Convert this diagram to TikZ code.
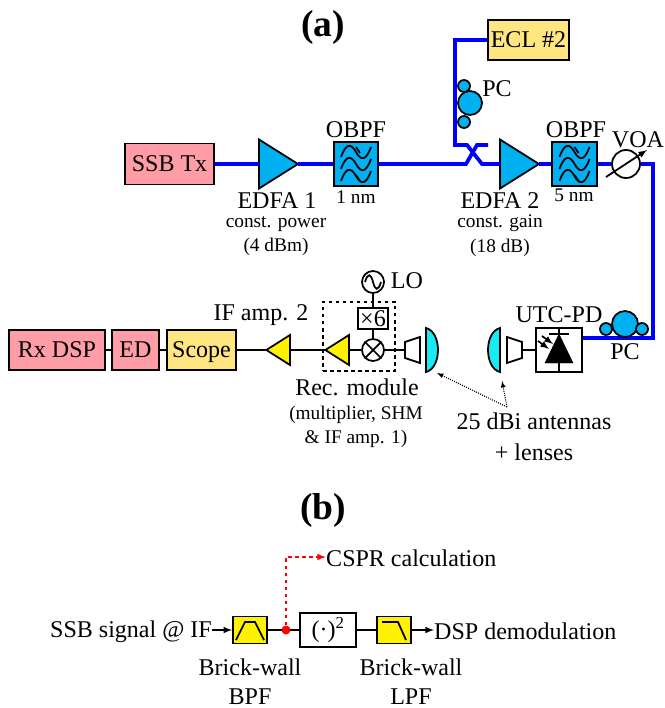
\documentclass[tikz,border=0pt]{standalone}
\usepackage{fontspec}
\setmainfont{Liberation Serif}
\usetikzlibrary{shapes.geometric}
\definecolor{oblue}{HTML}{00B0F0}
\definecolor{txpink}{HTML}{FF9DA6}
\definecolor{labyellow}{HTML}{FFE680}
\definecolor{lenscyan}{HTML}{19E8F5}
\tikzset{
	fiber/.style={line width=3.2pt, color=blue},
	wire/.style={line width=1.5pt},
	bigtext/.style={font=\fontsize{20.5}{22}\selectfont, inner sep=0pt, anchor=base},
	smalltext/.style={font=\fontsize{16.5}{18}\selectfont, inner sep=0pt, anchor=base},
	titletext/.style={font=\fontsize{32}{34}\selectfont\bfseries, inner sep=0pt},
	block/.style={draw, line width=1.5pt, inner sep=0pt, font=\fontsize{20.5}{22}\selectfont, text height=13pt, text depth=0pt},
	amp/.style={draw, line width=1.5pt, shape=isosceles triangle, isosceles triangle stretches, inner sep=0pt, outer sep=0pt},
	edfa/.style={amp, fill=oblue, minimum height=1.17cm, minimum width=1.47cm},
	ifamp/.style={amp, fill=yellow, minimum height=0.71cm, minimum width=0.9cm, shape border rotate=180},
	coil/.style={draw, line width=1.5pt, circle, fill=oblue, inner sep=0pt},
}
% filter symbol with three waves
\def\wavefilter(#1){
	\begin{scope}[shift={(#1)}]
		\foreach \dy in {-12, 0, 12}
			\draw[wire] (-15, 5+\dy) .. controls (-10, -9+\dy) and (-5, -9+\dy) .. (0, \dy) .. controls (5, 9+\dy) and (10, 9+\dy) .. (15, -5+\dy);
		\draw[wire] (0, -17) -- (4, -11);
		\draw[wire] (0, 11) -- (4, 17);
	\end{scope}
}

\begin{document}
\begin{tikzpicture}[x=0.03cm, y=-0.03cm]
	%%%%% START %%%%%
	\useasboundingbox (0, 0) rectangle (664, 708);
	
	\node[titletext] (titlea) at (323, 27) {(a)};
	\node[titletext] (titleb) at (323, 510) {(b)};
	
	% upper row
	\node[block, fill=txpink, minimum width=2.67cm, minimum height=1.23cm] (ssbtx) at (169.5, 164) {SSB Tx};
	\node[edfa, anchor=west] (edfaa) at (259, 164) {};
	\node[block, fill=oblue, minimum width=1.32cm, minimum height=1.32cm] (obpfa) at (356, 164) {};
	\node[block, fill=labyellow, minimum width=2.43cm, minimum height=1.2cm] (eclb) at (528.5, 40) {ECL \#2};
	\node[edfa, anchor=west] (edfab) at (500, 164) {};
	\node[block, fill=oblue, minimum width=1.35cm, minimum height=1.32cm] (obpfb) at (574.5, 164) {};
	\node[draw, wire, circle, minimum size=0.84cm, inner sep=0pt] (voa) at (626, 164) {};
	
	\coordinate (cplina) at (466, 164);
	\coordinate (cplouta) at (477, 145);
	\coordinate (cplendb) at (488, 145);
	\coordinate (cplinb) at (467, 145);
	\coordinate (cploutb) at (482, 164);
	\coordinate (eclcorner) at (455, 40);
	\coordinate (eclbottom) at (455, 145);
	\coordinate (voacorner) at (653, 164);
	\coordinate (pdcorner) at (653, 338);
	
	\draw[fiber] (ssbtx) -- (edfaa);
	\draw[fiber] (edfaa.east) -- (obpfa);
	\draw[fiber] (obpfa) -- (cplina) -- (cplouta) -- (cplendb);
	\draw[fiber] (eclb) -- (eclcorner) -- (eclbottom) -- (cplinb) -- (cploutb) -- (edfab);
	\draw[fiber] (edfab.east) -- (obpfb);
	\draw[fiber] (obpfb) -- (voa);
	
	\wavefilter(obpfa)
	\wavefilter(obpfb)
	
	\node[coil, minimum size=0.72cm] (pcabig) at (470, 103) {};
	\node[coil, minimum size=0.36cm] (pcaup) at (464, 86) {};
	\node[coil, minimum size=0.36cm] (pcadown) at (464, 122) {};
	
	% VOA
	\coordinate (voalow) at (606, 177);
	\coordinate (voahigh) at (647, 150);
	\draw[wire, -latex] (voalow) -- (voahigh);
	
	% right column down to the photodiode
	\node[block, fill=white, minimum width=1.38cm, minimum height=1.32cm] (utcpd) at (559, 350) {};
	\draw[fiber] (voa) -- (voacorner) -- (pdcorner) -- (utcpd.east |- pdcorner);
	\node[coil, minimum size=0.78cm] (pcbbig) at (625, 324) {};
	\node[coil, minimum size=0.36cm] (pcbleft) at (606, 329) {};
	\node[coil, minimum size=0.36cm] (pcbright) at (642, 329) {};
	
	% photodiode symbol
	\draw[wire] (utcpd.north) -- (utcpd.south);
	\draw[line width=1.6pt] (549, 334) -- (569, 334);
	\draw[fill=black] (559, 334) -- (573, 363) -- (545, 363) -- cycle;
	\draw[wire, -latex] (538, 341) -- (549, 349);
	\draw[wire, -latex] (542, 336) -- (553, 344);
	
	% horn and lens on the transmit side
	\draw[wire] (522, 350) -- (utcpd.west);
	\draw[wire, fill=white] (507, 337) -- (522, 342) -- (522, 358) -- (507, 363) -- cycle;
	\draw[wire, fill=lenscyan] (500, 328) .. controls (484, 332) and (484, 368) .. (500, 372) -- cycle;
	
	% lens and horn on the receive side
	\draw[wire, fill=lenscyan] (426, 328) .. controls (442, 332) and (442, 368) .. (426, 372) -- cycle;
	\draw[wire, fill=white] (420, 337) -- (405, 342) -- (405, 358) -- (420, 363) -- cycle;
	
	% receiver
	\node[draw, wire, dashed, minimum width=2.16cm, minimum height=2.07cm, inner sep=0pt] (recbox) at (359, 336.5) {};
	\node[draw, wire, circle, minimum size=0.66cm, inner sep=0pt] (mixer) at (373, 350) {};
	\draw[wire] (mixer.north west) -- (mixer.south east);
	\draw[wire] (mixer.north east) -- (mixer.south west);
	\node[block, fill=white, minimum width=0.9cm, minimum height=0.63cm] (mult) at (373, 318.5) {×6};
	\node[draw, wire, circle, minimum size=0.66cm, inner sep=0pt] (lo) at (373, 282) {};
	\draw[wire] (365, 282) .. controls (368, 272) and (371, 274) .. (373, 282) .. controls (375, 290) and (378, 292) .. (381, 282);
	\node[ifamp, anchor=east] (ifampa) at (349, 350) {};
	\node[ifamp, anchor=east] (ifampb) at (290, 350) {};
	\node[block, fill=labyellow, minimum width=2.07cm, minimum height=1.2cm] (scope) at (201.5, 350) {Scope};
	\node[block, fill=txpink, minimum width=1.41cm, minimum height=1.2cm] (ed) at (135.5, 350) {ED};
	\node[block, fill=txpink, minimum width=2.88cm, minimum height=1.2cm] (rxdsp) at (57, 350) {Rx DSP};
	
	\coordinate (hornrx) at (405, 350);
	\draw[wire] (hornrx) -- (mixer);
	\draw[wire] (mixer) -- (ifampa.east);
	\draw[wire] (ifampa.west) -- (ifampb.east);
	\draw[wire] (ifampb.west) -- (scope);
	\draw[wire] (mixer) -- (mult);
	\draw[wire] (mult) -- (lo);
	\draw[wire] (scope) -- (ed);
	\draw[wire] (ed) -- (rxdsp);
	
	% labels of part (a)
	\node[bigtext] (obpfalab) at (356, 138) {OBPF};
	\node[bigtext] (obpfblab) at (576, 138) {OBPF};
	\node[bigtext] (voalab) at (638, 148) {VOA};
	\node[bigtext] (pcalab) at (497, 97) {PC};
	\node[bigtext] (pcblab) at (625, 359) {PC};
	\node[bigtext] (utclab) at (559, 322) {UTC-PD};
	\node[bigtext] (edfaalab) at (277, 208) {EDFA 1};
	\node[smalltext] (edfaaone) at (276, 227) {const. power};
	\node[smalltext] (edfaatwo) at (276, 251) {(4 dBm)};
	\node[smalltext] (nma) at (356, 203) {1 nm};
	\node[bigtext] (edfablab) at (500, 208) {EDFA 2};
	\node[smalltext] (edfabone) at (500, 227) {const. gain};
	\node[smalltext] (edfabtwo) at (500, 252) {(18 dB)};
	\node[smalltext] (nmb) at (574, 202) {5 nm};
	\node[bigtext] (lolab) at (407, 288) {LO};
	\node[bigtext] (ifamplab) at (261, 320) {IF amp. 2};
	\node[bigtext] (reclab) at (357, 395) {Rec. module};
	\node[smalltext] (recone) at (356, 419) {(multiplier, SHM};
	\node[smalltext] (rectwo) at (356, 443) {\& IF amp. 1)};
	\node[bigtext] (antlab) at (534, 429) {25 dBi antennas};
	\node[bigtext] (lenslab) at (534, 460) {+ lenses};
	
	\coordinate (antjoin) at (507, 407);
	\coordinate (lensrx) at (437, 373);
	\coordinate (lenstx) at (502, 381);
	\draw[densely dotted, line width=0.9pt, -latex] (antjoin) -- (lensrx);
	\draw[densely dotted, line width=0.9pt, -latex] (antjoin) -- (lenstx);
	
	% part (b)
	\node[block, fill=yellow, minimum width=1.02cm, minimum height=0.81cm] (bpf) at (250, 630) {};
	\draw[wire] (236, 640) -- (245, 622) -- (255, 622) -- (264, 640);
	\node[block, minimum width=1.68cm, minimum height=1.02cm] (square) at (328, 630) {(·)\textsuperscript{2}};
	\node[block, fill=yellow, minimum width=1.02cm, minimum height=0.81cm] (lpf) at (394, 630) {};
	\draw[wire] (382, 622) -- (398, 622) -- (406, 640);
	
	\node[bigtext, anchor=base east] (sig) at (212, 637) {SSB signal @ IF};
	\node[bigtext, anchor=base west] (dsp) at (434, 639) {DSP demodulation};
	\node[bigtext, anchor=base west] (cspr) at (326, 566) {CSPR calculation};
	\node[bigtext] (bwa) at (250, 675) {Brick-wall};
	\node[bigtext] (bpflab) at (250, 704) {BPF};
	\node[bigtext] (bwb) at (411, 675) {Brick-wall};
	\node[bigtext] (lpflab) at (411, 704) {LPF};
	
	\coordinate (tapin) at (286, 630);
	\draw[wire, -latex] (sig.east |- bpf) -- (bpf);
	\draw[wire] (bpf) -- (tapin);
	\draw[wire] (tapin) -- (square);
	\draw[wire] (square) -- (lpf);
	\draw[wire, -latex] (lpf) -- (dsp.west |- lpf);
	\node[circle, fill=red, minimum size=0.27cm, inner sep=0pt] (tap) at (tapin) {};
	\coordinate (csprcorner) at (286, 557);
	\draw[wire, color=red, dashed, -latex] (tap) -- (csprcorner) -- (cspr.west |- csprcorner);
	
	%%%%% END %%%%%
\end{tikzpicture}
\end{document}
